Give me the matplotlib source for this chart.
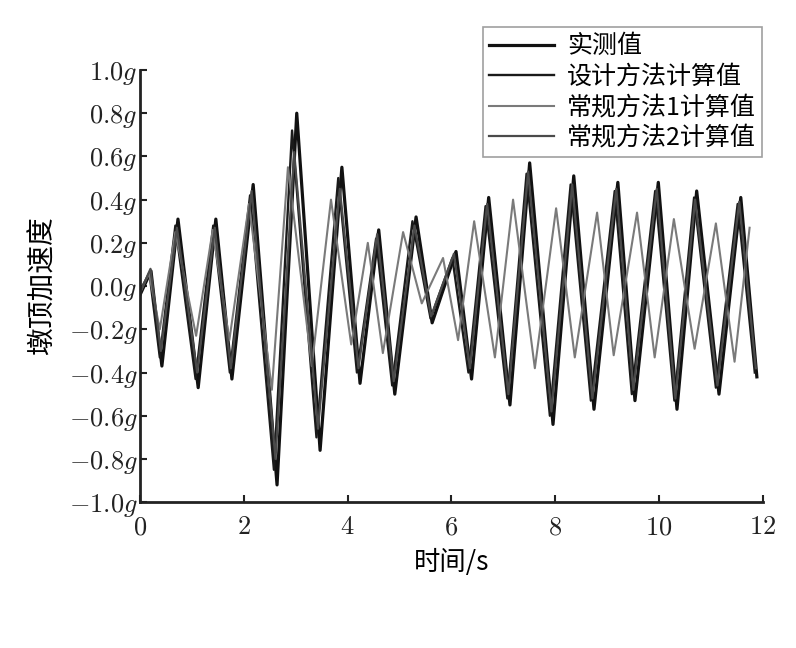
import matplotlib
matplotlib.use('Agg')
import matplotlib.pyplot as plt

plt.rcParams['font.family'] = ['Noto Sans CJK SC', 'DejaVu Sans']
plt.rcParams['mathtext.fontset'] = 'cm'

# vertices (time in s, acceleration in g)
t_meas = [0, 0.21, 0.42, 0.73, 1.12, 1.46, 1.77, 2.18, 2.64, 3.02, 3.47, 3.89, 4.24, 4.60, 4.91,
          5.32, 5.63, 6.09, 6.39, 6.72, 7.13, 7.51, 7.96, 8.36, 8.75, 9.21, 9.54, 9.99, 10.35,
          10.73, 11.16, 11.58, 11.89]
a_meas = [-0.04, 0.07, -0.37, 0.31, -0.47, 0.31, -0.43, 0.47, -0.92, 0.80, -0.76, 0.55, -0.45,
          0.26, -0.50, 0.32, -0.17, 0.16, -0.43, 0.41, -0.55, 0.57, -0.64, 0.51, -0.57, 0.48,
          -0.53, 0.48, -0.57, 0.44, -0.50, 0.41, -0.42]

t_design = [0, 0.18, 0.38, 0.68, 1.07, 1.41, 1.73, 2.12, 2.58, 2.93, 3.40, 3.82, 4.18, 4.55, 4.86,
            5.25, 5.60, 6.02, 6.33, 6.66, 7.08, 7.45, 7.90, 8.30, 8.69, 9.15, 9.48, 9.93, 10.30,
            10.68, 11.10, 11.52, 11.85]
a_design = [-0.02, 0.06, -0.33, 0.28, -0.43, 0.28, -0.40, 0.42, -0.85, 0.72, -0.70, 0.50, -0.40,
            0.22, -0.46, 0.30, -0.15, 0.13, -0.40, 0.37, -0.52, 0.52, -0.60, 0.47, -0.53, 0.44,
            -0.50, 0.44, -0.53, 0.41, -0.47, 0.38, -0.40]

t_conv1 = [0, 0.17, 0.38, 0.68, 1.08, 1.40, 1.72, 2.10, 2.54, 2.85, 3.31, 3.68, 4.07, 4.39, 4.68,
           5.07, 5.43, 5.84, 6.13, 6.44, 6.84, 7.19, 7.61, 8.02, 8.38, 8.81, 9.13, 9.58, 9.92,
           10.29, 10.69, 11.10, 11.46, 11.75]
a_conv1 = [-0.03, 0.06, -0.20, 0.25, -0.23, 0.26, -0.25, 0.38, -0.48, 0.55, -0.37, 0.40, -0.27,
           0.20, -0.31, 0.25, -0.08, 0.13, -0.25, 0.30, -0.33, 0.40, -0.38, 0.36, -0.33, 0.34,
           -0.32, 0.34, -0.33, 0.31, -0.29, 0.29, -0.35, 0.27]

t_conv2 = [0, 0.20, 0.40, 0.71, 1.10, 1.44, 1.75, 2.15, 2.61, 2.97, 3.43, 3.85, 4.21, 4.57, 4.89,
           5.29, 5.61, 6.05, 6.36, 6.69, 7.10, 7.48, 7.93, 8.33, 8.72, 9.18, 9.51, 9.96, 10.32,
           10.70, 11.13, 11.55, 11.87]
a_conv2 = [-0.03, 0.08, -0.30, 0.27, -0.40, 0.27, -0.38, 0.44, -0.80, 0.62, -0.66, 0.45, -0.38,
           0.24, -0.44, 0.28, -0.14, 0.15, -0.38, 0.38, -0.50, 0.53, -0.58, 0.47, -0.52, 0.45,
           -0.48, 0.45, -0.52, 0.40, -0.46, 0.39, -0.38]

labels = ['实测值', '设计方法计算值', '常规方法1计算值', '常规方法2计算值']
x_ticks = [0, 2, 4, 6, 8, 10, 12]
y_ticks = [-1.0, -0.8, -0.6, -0.4, -0.2, 0.0, 0.2, 0.4, 0.6, 0.8, 1.0]

fig = plt.figure(figsize=(7.96, 6.48), dpi=100)
ax = fig.add_axes([0.176, 0.225, 0.782, 0.667])

ax.plot(t_meas, a_meas, color='#111111', lw=2.3, label=labels[0])
ax.plot(t_design, a_design, color='#1a1a1a', lw=1.7, label=labels[1])
ax.plot(t_conv1, a_conv1, color='#7a7a7a', lw=1.5, label=labels[2])
ax.plot(t_conv2, a_conv2, color='#4a4a4a', lw=1.6, label=labels[3])

ax.set_xlim(0, 12)
ax.set_ylim(-1.0, 1.0)
ax.set_xticks(x_ticks)
ax.set_xticklabels(['$%d$' % v for v in x_ticks], fontsize=19)
ax.set_yticks(y_ticks)
ax.set_yticklabels(['$%.1fg$' % v for v in y_ticks], fontsize=19)
ax.tick_params(direction='in', length=5, width=1.5, colors='#222222')
ax.tick_params(axis='x', pad=8)
ax.tick_params(axis='y', pad=2)
for s in ['top', 'right']:
    ax.spines[s].set_visible(False)
for s in ['left', 'bottom']:
    ax.spines[s].set_linewidth(2)
    ax.spines[s].set_color('#222222')

ax.set_xlabel('时间/s', fontsize=19, labelpad=6)
ax.set_ylabel('墩顶加速度', fontsize=20, labelpad=8)

leg = ax.legend(loc='upper right', bbox_to_anchor=(762 / 796, 1 - 27 / 648),
                bbox_transform=fig.transFigure, fontsize=18, frameon=True, fancybox=False,
                edgecolor='#888888', handlelength=2.6, handletextpad=0.5, borderpad=0.25,
                labelspacing=0.18, borderaxespad=0)
leg.get_frame().set_linewidth(1.2)

fig.savefig('out.png', dpi=100)
